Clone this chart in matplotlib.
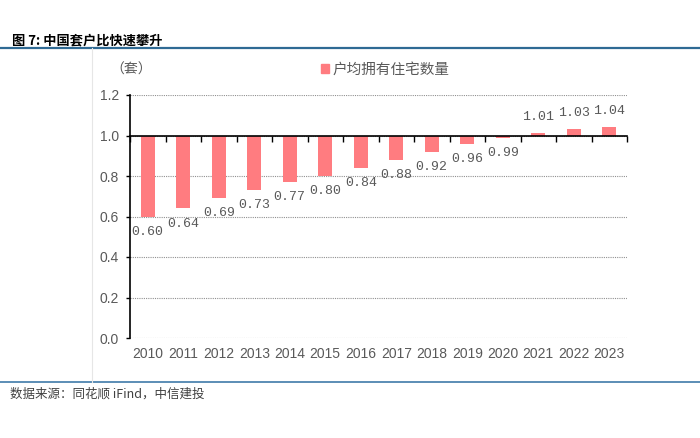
import numpy as np
import matplotlib.pyplot as plt
from matplotlib.lines import Line2D
from matplotlib.patches import Patch

plt.rcParams['font.family'] = ['Noto Sans CJK SC', 'DejaVu Sans']

years = ['2010', '2011', '2012', '2013', '2014', '2015', '2016',
         '2017', '2018', '2019', '2020', '2021', '2022', '2023']
ratio = [0.60, 0.64, 0.69, 0.73, 0.77, 0.80, 0.84,
         0.88, 0.92, 0.96, 0.99, 1.01, 1.03, 1.04]
title = '图 7: 中国套户比快速攀升'
source = '数据来源：同花顺 iFind，中信建投'
series_name = '户均拥有住宅数量'
unit = '（套）'

bar_color = '#FF7C80'
text_gray = '#595959'
base = 1.0

fig = plt.figure(figsize=(7, 4.38), dpi=100)
ax = fig.add_axes([130/700, 1-338/438, 497/700, 243/438])

x = np.arange(len(years))
vals = np.array(ratio)
ax.bar(x, vals - base, bottom=base, width=0.4, color=bar_color, zorder=3)

ax.set_xlim(-0.5, len(years) - 0.5)
ax.set_ylim(0, 1.2)
ax.set_yticks(np.arange(0, 1.21, 0.2))
ax.set_yticklabels([f'{v:.1f}' for v in np.arange(0, 1.21, 0.2)],
                   family='Liberation Sans', fontsize=10, color=text_gray)
ax.grid(axis='y', linestyle=(0, (1, 1)), color='#909090', linewidth=0.8, zorder=0)

# x axis sits at 1.0 with ticks at the category boundaries
for s in ['top', 'right']:
    ax.spines[s].set_visible(False)
ax.spines['bottom'].set_position(('data', base))
ax.spines['bottom'].set_color('black')
ax.spines['bottom'].set_linewidth(1.2)
ax.spines['bottom'].set_zorder(4)
ax.spines['left'].set_linewidth(1.2)
ax.set_xticks(np.arange(-0.5, len(years), 1.0))
ax.set_xticklabels([])
ax.tick_params(axis='x', direction='out', length=4, width=1)
ax.tick_params(axis='y', direction='out', length=3, width=1, pad=5)

# year labels down at the bottom
for i, yr in enumerate(years):
    ax.text(i, -0.08, yr, ha='center', va='center', family='Liberation Sans',
            fontsize=10, color=text_gray)

# value labels
for i, v in enumerate(vals):
    off = -0.075 if v < base else 0.08
    ax.text(i, v + off, f'{v:.2f}', ha='center', va='center',
            family='Liberation Mono', fontsize=9.5, color=text_gray)

# legend and unit
fig.text(110/700, 1-70/438, unit, ha='left', va='center', fontsize=10, color=text_gray)
fig.legend(handles=[Patch(color=bar_color)], labels=[series_name],
           loc='center left', bbox_to_anchor=(308/700, 1-70/438), frameon=False,
           handlelength=0.55, handleheight=0.55, handletextpad=0.2,
           prop={'size': 10.5}, labelcolor=text_gray)

# title, frame lines, source
fig.text(12/700, 1-40/438, title, ha='left', va='center', fontsize=9.5,
         fontweight='bold', color='black')
fig.add_artist(Line2D([0, 1], [1-48/438, 1-48/438], color='#2F6A94', linewidth=1.6))
fig.add_artist(Line2D([0, 1], [1-382/438, 1-382/438], color='#5B8DB5', linewidth=1.4))
fig.add_artist(Line2D([92/700, 92/700], [1-382/438, 1-48/438], color='#E6E6E6', linewidth=0.8))
fig.text(10/700, 1-394/438, source, ha='left', va='center', fontsize=9,
         style='italic', color='#404040')

fig.savefig('out.png', dpi=100)
